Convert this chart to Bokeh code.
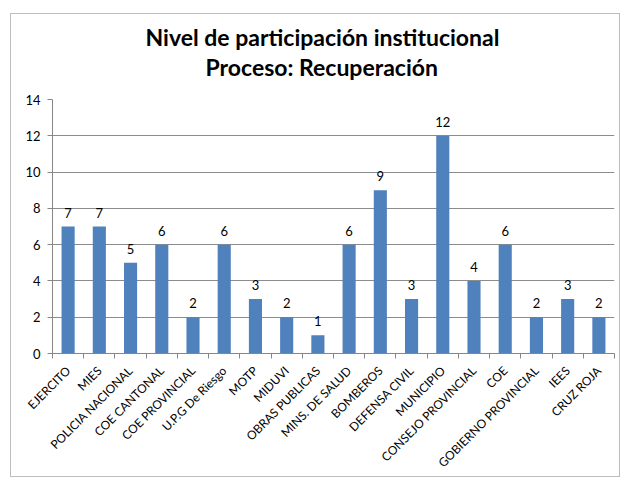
import math
from bokeh.plotting import figure
from bokeh.models import Range1d, FixedTicker, ColumnDataSource, Title
from bokeh.core.properties import value
from bokeh.embed import file_html
from bokeh.resources import INLINE

categories = ["EJERCITO", "MIES", "POLICIA NACIONAL", "COE CANTONAL", "COE PROVINCIAL",
              "U.P.G De Riesgo", "MOTP", "MIDUVI", "OBRAS PUBLICAS", "MINS. DE SALUD",
              "BOMBEROS", "DEFENSA CIVIL", "MUNICIPIO", "CONSEJO PROVINCIAL", "COE",
              "GOBIERNO PROVINCIAL", "IEES", "CRUZ ROJA"]
values = [7, 7, 5, 6, 2, 6, 3, 2, 1, 6, 9, 3, 12, 4, 6, 2, 3, 2]
y_ticks = [0, 2, 4, 6, 8, 10, 12, 14]
title_lines = ["Nivel de participación institucional", "Proceso: Recuperación"]

n = len(categories)
y_max = y_ticks[-1]
centers = [i + 0.5 for i in range(n)]
bounds = list(range(n + 1))

src = ColumnDataSource(dict(x=centers, top=values, lbl=[str(v) for v in values]))

p = figure(width=610, height=464, output_backend="svg", toolbar_location=None,
           x_range=Range1d(0, n), y_range=Range1d(0, y_max),
           min_border_left=41, min_border_right=7, min_border_top=85, min_border_bottom=125)
p.styles = {"border": "1px solid #bdbdbd", "margin-left": "10px", "margin-top": "13px"}
p.outline_line_color = None
p.background_fill_color = "white"

title_style = dict(align="left", text_font="Lato", text_font_size="23px",
                   text_font_style="bold", text_color="#000000")

# spacer between the frame and the title block
p.add_layout(Title(text=" ", text_font_size="1px", standoff=16), "above")
# second title line (nearest the frame)
p.add_layout(Title(text=title_lines[1], offset=153, standoff=0, **title_style), "above")
# first title line (outermost)
p.title.text = title_lines[0]
p.title.offset = 93
p.title.standoff = 0
for k, v in title_style.items():
    setattr(p.title, k, v)

p.vbar(x="x", top="top", width=0.42, source=src, fill_color="#4F81BD", line_color=None)
p.text(x="x", y="top", text="lbl", source=src, text_align="center", text_baseline="bottom",
       y_offset=-9, text_font=value("Lato"), text_font_size="13px", text_color="#000000")

xa = p.xaxis[0]
xa.ticker = FixedTicker(ticks=centers, minor_ticks=bounds)
xa.major_label_overrides = {c: lab for c, lab in zip(centers, categories)}
xa.major_label_orientation = math.pi / 4
xa.major_tick_line_color = None
xa.minor_tick_line_color = "#868686"
xa.minor_tick_out = 5
xa.minor_tick_in = 0
xa.axis_line_color = "#868686"
xa.major_label_text_font = "Lato"
xa.major_label_text_font_size = "12px"
xa.major_label_text_color = "#000000"
xa.major_label_standoff = 9

ya = p.yaxis[0]
ya.ticker = FixedTicker(ticks=y_ticks)
ya.minor_tick_line_color = None
ya.major_tick_line_color = "#868686"
ya.major_tick_out = 5
ya.major_tick_in = 0
ya.axis_line_color = "#868686"
ya.major_label_text_font = "Lato"
ya.major_label_text_font_size = "13px"
ya.major_label_text_color = "#000000"
ya.major_label_standoff = 7

p.xgrid.grid_line_color = None
p.ygrid.ticker = FixedTicker(ticks=y_ticks)
p.ygrid.grid_line_color = "#8c8c8c"
p.ygrid.grid_line_width = 1

open("out.html", "w").write(file_html(p, INLINE))
